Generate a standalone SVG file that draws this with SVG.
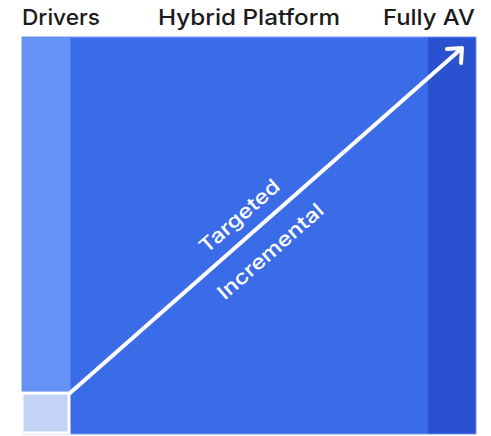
<svg xmlns="http://www.w3.org/2000/svg" width="491" height="436" viewBox="0 0 491 436">
<style>
.hdr{font-family:Inter,"Liberation Sans",sans-serif;font-size:22px;font-weight:500;fill:#1b1b1b}
.diag{font-family:Inter,"Liberation Sans",sans-serif;font-size:20px;font-weight:500;fill:#ffffff}
</style>
<rect width="491" height="436" fill="#ffffff"/>
<g id="chart">
<rect x="22" y="37" width="454" height="397" fill="#3b6ce8" stroke="#7f9ff0" stroke-width="1"/>
<rect id="drivers-band" x="22.5" y="37.5" width="48" height="354" fill="#6593f5"/>
<rect id="fullyav-band" x="428" y="37.5" width="47.5" height="396" fill="#2a51cf"/>
<rect id="start-box" x="22" y="393" width="47" height="40" fill="#c3d3f6" stroke="#ffffff" stroke-width="3"/>
</g>
<g id="headers">
<text class="hdr" x="22" y="25" textLength="78" lengthAdjust="spacingAndGlyphs">Drivers</text>
<text class="hdr" x="158" y="25" textLength="182" lengthAdjust="spacingAndGlyphs">Hybrid Platform</text>
<text class="hdr" x="383" y="25" textLength="92" lengthAdjust="spacingAndGlyphs">Fully AV</text>
</g>
<g id="connectors" fill="none" stroke="#ffffff" stroke-width="4" stroke-linecap="round" stroke-linejoin="round">
<path d="M70,393 L461,49"/>
<path d="M447,49 L462,48 L461,63"/>
</g>
<g id="labels" transform="translate(253.2,231.8) rotate(-41.34)">
<text class="diag" x="-50" y="-14" textLength="100" lengthAdjust="spacingAndGlyphs">Targeted</text>
<text class="diag" x="-67" y="33" textLength="134" lengthAdjust="spacingAndGlyphs">Incremental</text>
</g>
</svg>
